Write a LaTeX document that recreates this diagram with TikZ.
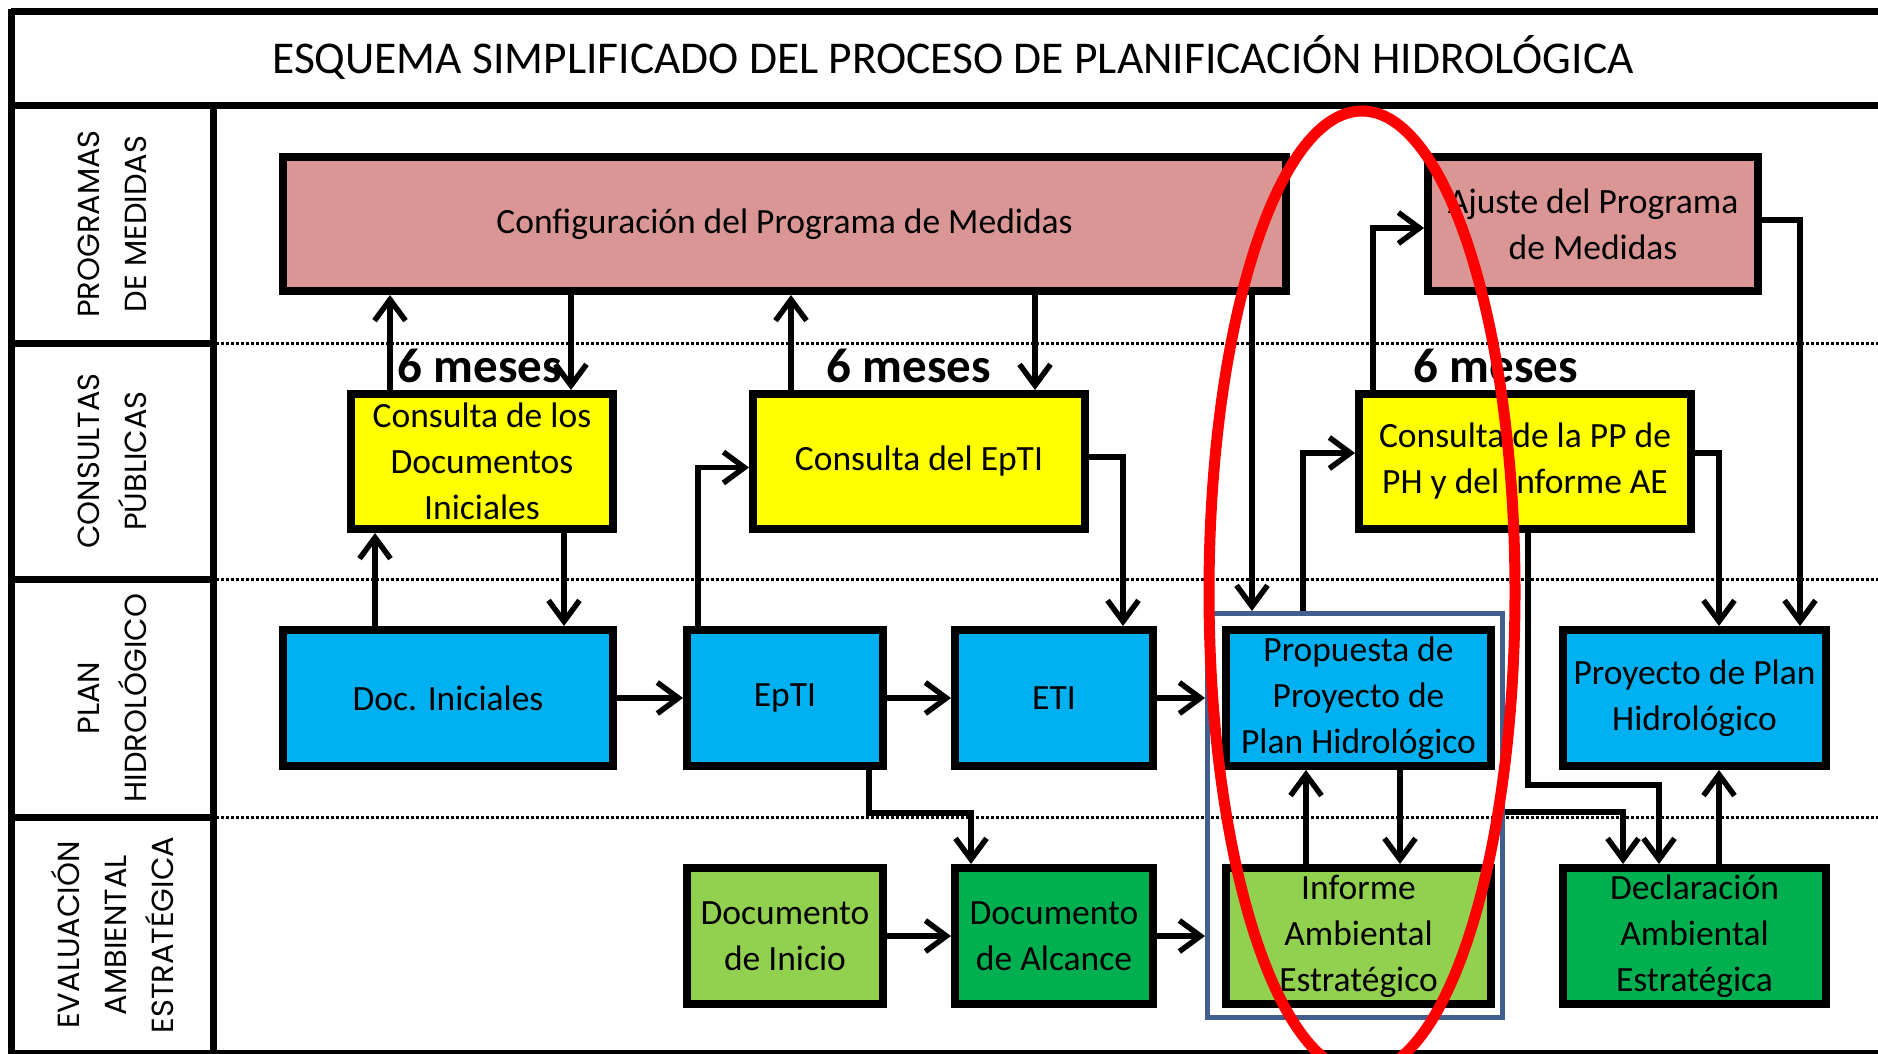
\documentclass[tikz,border=0pt]{standalone}
\usepackage{fontspec}
\setmainfont{Carlito}
\newfontfamily\lanefont{Poppins}
\usetikzlibrary{arrows.meta,calc}
\definecolor{pinkbox}{HTML}{D99694}
\definecolor{yellowbox}{HTML}{FFFF00}
\definecolor{bluebox}{HTML}{00B0F0}
\definecolor{lightgreen}{HTML}{92D050}
\definecolor{darkgreen}{HTML}{00B050}
\definecolor{groupline}{HTML}{41608F}
\begin{document}
\begin{tikzpicture}[x=1pt,y=-1pt,
  frame/.style={line width=7pt},
  sep/.style={line width=3pt, dash pattern=on 2.5pt off 2.5pt},
  stepbox/.style={draw, line width=8pt, inner sep=0pt, align=center,
    font=\fontsize{35.5}{46}\selectfont, text=black},
  lanelabel/.style={rotate=90, align=center, font=\lanefont\fontsize{30.5}{47}\selectfont},
  conn/.style={line width=5.5pt, -{Straight Barb[length=21pt,width=31pt,line width=5.5pt]}},
  meses/.style={font=\bfseries\fontsize{49}{52}\selectfont}
]
\useasboundingbox (0,0) rectangle (1878,1054);
\fill[white] (0,0) rectangle (1878,1054);

% frame
\draw[frame] (11,12) -- (1878,12);
\draw[frame] (11,106) -- (1878,106);
\draw[frame] (11,9) -- (11,1054);
\draw[line width=4pt] (11,1052) -- (1878,1052);
\draw[frame] (213,106) -- (213,1054);
\foreach \yy in {343,579,817} {
  \draw[frame] (11,\yy) -- (213,\yy);
  \draw[sep] (216,\yy) -- (1878,\yy);
}

% title
\node[font=\fontsize{45.5}{50}\selectfont] (title) at (953,58) {ESQUEMA SIMPLIFICADO DEL PROCESO DE PLANIFICACIÓN HIDROLÓGICA};

% lane labels
\node[lanelabel] (l1) at (112,224) {PROGRAMAS\\DE MEDIDAS};
\node[lanelabel] (l2) at (112,461) {CONSULTAS\\PÚBLICAS};
\node[lanelabel] (l3) at (112,698) {PLAN\\HIDROLÓGICO};
\node[lanelabel] (l4) at (112,935) {EVALUACIÓN\\AMBIENTAL\\ESTRATÉGICA};

% boxes
\node[stepbox, fill=pinkbox, minimum width=1003pt, minimum height=134pt] (cfg) at (784.5,224) {Configuración del Programa de Medidas};
\node[stepbox, fill=pinkbox, minimum width=330pt, minimum height=134pt] (ajuste) at (1593,224) {Ajuste del Programa\\de Medidas};
\node[stepbox, fill=yellowbox, minimum width=262pt, minimum height=135pt] (cdi) at (482,461.5) {Consulta de los\\Documentos\\Iniciales};
\node[stepbox, fill=yellowbox, minimum width=332pt, minimum height=135pt] (cep) at (919,461.5) {Consulta del EpTI};
\node[stepbox, fill=yellowbox, minimum width=332pt, minimum height=135pt] (cpp) at (1525,461.5) {Consulta de la PP de\\PH y del Informe AE};
\node[stepbox, fill=bluebox, minimum width=330pt, minimum height=136pt] (doci) at (448,698) {Doc. Iniciales};
\node[stepbox, fill=bluebox, minimum width=196pt, minimum height=136pt] (epti) at (785,698) {EpTI};
\node[stepbox, fill=bluebox, minimum width=198pt, minimum height=136pt] (eti) at (1054,698) {ETI};
\node[stepbox, fill=bluebox, minimum width=265pt, minimum height=136pt] (prop) at (1358.5,698) {Propuesta de\\Proyecto de\\Plan Hidrológico};
\node[stepbox, fill=bluebox, minimum width=263pt, minimum height=136pt] (proy) at (1694.5,698) {Proyecto de Plan\\Hidrológico};
\node[stepbox, fill=lightgreen, minimum width=196pt, minimum height=136pt] (dini) at (785,936) {Documento\\de Inicio};
\node[stepbox, fill=darkgreen, minimum width=198pt, minimum height=136pt] (dalc) at (1054,936) {Documento\\de Alcance};
\node[stepbox, fill=lightgreen, minimum width=265pt, minimum height=136pt] (inf) at (1358.5,936) {Informe\\Ambiental\\Estratégico};
\node[stepbox, fill=darkgreen, minimum width=263pt, minimum height=136pt] (decl) at (1694.5,936) {Declaración\\Ambiental\\Estratégica};

% group outline
\node[draw=groupline, line width=5pt, minimum width=295pt, minimum height=404pt, inner sep=0pt] (grp) at (1355,815.5) {};

% helper coordinates (x positions and y levels)
\coordinate (xa) at (375,0);
\coordinate (xb) at (564,0);
\coordinate (xc) at (390,0);
\coordinate (xd) at (571,0);
\coordinate (xe) at (698,0);
\coordinate (xf) at (791,0);
\coordinate (xg) at (1035,0);
\coordinate (xh) at (1123,0);
\coordinate (xi) at (869,0);
\coordinate (xj) at (971,0);
\coordinate (xk) at (1252,0);
\coordinate (xl) at (1303,0);
\coordinate (xm) at (1373,0);
\coordinate (xn) at (1800,0);
\coordinate (xo) at (1719,0);
\coordinate (xp) at (1528,0);
\coordinate (xq) at (1659,0);
\coordinate (xr) at (1623,0);
\coordinate (xs) at (1306,0);
\coordinate (xt) at (1400,0);
\coordinate (ya) at (0,813);
\coordinate (yb) at (0,785);
\coordinate (yc) at (0,812);

% connectors
\draw[conn] (doci.north -| xa) -- (cdi.south -| xa);
\draw[conn] (cdi.south -| xb) -- (doci.north -| xb);
\draw[conn] (cdi.north -| xc) -- (cfg.south -| xc);
\draw[conn] (cfg.south -| xd) -- (cdi.north -| xd);
\draw[conn] (epti.north -| xe) |- ([yshift=-6pt]cep.west);
\draw[conn] (cep.north -| xf) -- (cfg.south -| xf);
\draw[conn] (cfg.south -| xg) -- (cep.north -| xg);
\draw[conn] ([yshift=4.5pt]cep.east) -| (eti.north -| xh);
\draw[conn] (doci.east) -- (epti.west);
\draw[conn] (epti.east) -- (eti.west);
\draw[conn] (eti.east) -- (grp.west |- eti.east);
\draw[conn] (epti.south -| xi) |- (xj |- ya) -- (dalc.north -| xj);
\draw[conn] (dini.east) -- (dalc.west);
\draw[conn] (dalc.east) -- (grp.west |- dalc.east);
\draw[conn] (cfg.south -| xk) -- (grp.north -| xk);
\draw[conn] (grp.north -| xl) |- ([yshift=8.5pt]cpp.west);
\draw[conn] (cpp.north -| xm) |- ([yshift=-4pt]ajuste.west);
\draw[conn] ([yshift=4pt]ajuste.east) -| (proy.north -| xn);
\draw[conn] ([yshift=8.5pt]cpp.east) -| (proy.north -| xo);
\draw[conn] (cpp.south -| xp) |- (xq |- yb) -- (decl.north -| xq);
\draw[conn] (grp.east |- yc) -| (decl.north -| xr);
\draw[conn] (decl.north -| xo) -- (proy.south -| xo);
\draw[conn] (inf.north -| xs) -- (prop.south -| xs);
\draw[conn] (prop.south -| xt) -- (inf.north -| xt);

% 6 meses labels
\node[meses] (m1) at (480,366) {6 meses};
\node[meses] (m2) at (909,366) {6 meses};
\node[meses] (m3) at (1496,366) {6 meses};

% red ellipse
\draw[red, line width=11pt] (1362,592) ellipse [x radius=153, y radius=481];
\end{tikzpicture}
\end{document}
